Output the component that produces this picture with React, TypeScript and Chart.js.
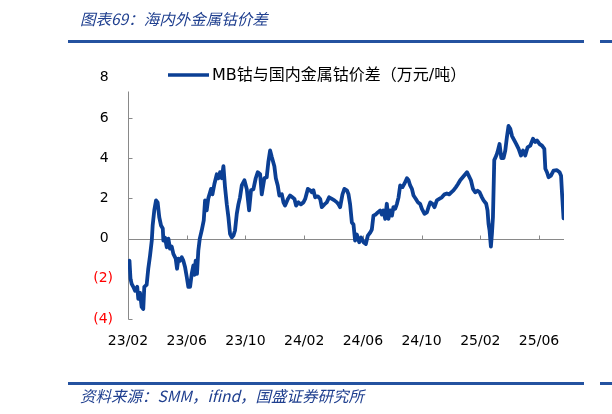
import React, { useEffect, useRef } from "react";
import { Chart, registerables } from "chart.js";

Chart.register(...registerables);

// x position: months since 2023-02 (23/02 = 0)
const monthOffset = [
  0.03, 0.10, 0.17, 0.25, 0.36, 0.48, 0.63, 0.70, 0.82, 0.93, 1.04, 1.11, 1.27, 1.38, 1.50, 1.62, 1.68, 1.79, 1.91, 2.02,
  2.13, 2.25, 2.37, 2.41, 2.52, 2.64, 2.75, 2.86, 2.98, 3.09, 3.25, 3.34, 3.43, 3.54, 3.66, 3.77, 3.89, 4.00, 4.11, 4.23,
  4.34, 4.45, 4.52, 4.61, 4.70, 4.79, 4.89, 5.02, 5.16, 5.25, 5.36, 5.47, 5.66, 5.75, 5.88, 6.05, 6.16, 6.27, 6.39, 6.50,
  6.61, 6.73, 6.84, 6.95, 7.07, 7.18, 7.29, 7.41, 7.52, 7.63, 7.75, 7.93, 8.09, 8.25, 8.38, 8.54, 8.70, 8.84, 9.00, 9.11,
  9.29, 9.45, 9.56, 9.68, 9.80, 9.97, 10.07, 10.20, 10.31, 10.48, 10.59, 10.70, 10.89, 11.04, 11.20, 11.34, 11.45, 11.61, 11.77, 11.95,
  12.07, 12.25, 12.41, 12.52, 12.63, 12.75, 12.93, 13.09, 13.20, 13.38, 13.54, 13.70, 13.89, 14.06, 14.23, 14.34, 14.45, 14.61, 14.74, 14.91,
  15.02, 15.13, 15.25, 15.36, 15.47, 15.59, 15.75, 15.88, 16.04, 16.20, 16.34, 16.50, 16.61, 16.72, 16.88, 17.02, 17.18, 17.29, 17.40, 17.52,
  17.63, 17.74, 17.86, 17.98, 18.08, 18.20, 18.32, 18.43, 18.54, 18.70, 18.83, 19.00, 19.11, 19.22, 19.34, 19.45, 19.61, 19.75, 19.90, 20.02,
  20.20, 20.36, 20.47, 20.59, 20.74, 20.88, 21.04, 21.20, 21.38, 21.56, 21.72, 21.88, 22.02, 22.17, 22.34, 22.47, 22.63, 22.86, 23.09, 23.20,
  23.36, 23.50, 23.65, 23.81, 23.95, 24.11, 24.22, 24.40, 24.49, 24.56, 24.63, 24.72, 24.79, 24.86, 24.95, 25.09, 25.17, 25.31, 25.43, 25.58,
  25.70, 25.81, 25.92, 26.04, 26.16, 26.26, 26.45, 26.61, 26.77, 26.91, 27.06, 27.22, 27.40, 27.59, 27.74, 27.86, 28.04, 28.20, 28.36, 28.43,
  28.54, 28.65, 28.81, 28.99, 29.22, 29.40, 29.50, 29.57, 29.67,
];

// MB cobalt minus domestic cobalt metal price (10k CNY / t)
const spread = [
  -1.2, -1.1, -2.0, -2.25, -2.4, -2.6, -2.4, -3.0, -2.7, -3.4, -3.5, -2.4, -2.3, -1.5, -0.85, -0.1, 0.65, 1.4, 1.9, 1.8,
  1.06, 0.65, 0.5, -0.1, 0.05, -0.43, 0.0, -0.5, -0.4, -0.76, -1.0, -1.5, -1.0, -1.1, -0.93, -1.1, -1.43, -1.9, -2.4, -2.4,
  -1.76, -1.34, -1.8, -1.1, -1.76, -0.6, 0.0, 0.4, 0.9, 1.9, 1.4, 2.0, 2.47, 2.2, 2.7, 3.2, 3.0, 3.3, 3.0, 3.6,
  2.55, 1.7, 1.06, 0.23, 0.06, 0.15, 0.4, 1.23, 1.7, 2.05, 2.64, 2.9, 2.47, 1.4, 2.4, 2.45, 3.0, 3.3, 3.2, 2.2,
  3.0, 3.05, 3.8, 4.38, 4.04, 3.6, 3.0, 2.64, 2.14, 2.2, 1.8, 1.64, 1.97, 2.14, 2.05, 1.97, 1.64, 1.8, 1.7, 1.8,
  1.97, 2.47, 2.4, 2.3, 2.4, 2.05, 2.1, 1.97, 1.56, 1.7, 1.8, 2.05, 1.97, 1.9, 1.8, 1.7, 1.56, 2.2, 2.47, 2.4,
  2.2, 1.7, 0.8, 0.7, -0.1, 0.2, -0.18, 0.05, -0.18, -0.27, 0.15, 0.3, 0.45, 1.14, 1.2, 1.3, 1.4, 1.2, 1.4, 0.98,
  1.73, 0.98, 1.4, 1.14, 1.56, 1.48, 1.73, 2.05, 2.64, 2.56, 2.73, 3.0, 2.9, 2.64, 2.47, 2.14, 1.97, 1.8, 1.73, 1.48,
  1.23, 1.3, 1.56, 1.8, 1.73, 1.56, 1.9, 1.97, 2.05, 2.2, 2.24, 2.2, 2.3, 2.4, 2.56, 2.7, 2.9, 3.1, 3.3, 3.14,
  2.9, 2.47, 2.3, 2.38, 2.3, 2.05, 1.9, 1.73, 1.4, 0.73, 0.4, -0.4, 0.23, 1.06, 3.9, 4.13, 4.3, 4.7, 4.0, 4.0,
  4.38, 5.04, 5.6, 5.46, 5.1, 4.96, 4.7, 4.46, 4.13, 4.38, 4.13, 4.54, 4.62, 4.96, 4.8, 4.88, 4.7, 4.62, 4.46, 3.47,
  3.3, 3.05, 3.13, 3.38, 3.4, 3.3, 3.13, 2.2, 1.0,
];

const xTickValues = [0, 4, 8, 12, 16, 20, 24, 28];
const xTickLabels = ["23/02", "23/06", "23/10", "24/02", "24/06", "24/10", "25/02", "25/06"];
const yTickValues = [-4, -2, 0, 2, 4, 6, 8];

const seriesName = "MB钴与国内金属钴价差（万元/吨）";
const titleText = "图表69：海内外金属钴价差";
const sourceText = "资料来源：SMM，ifind，国盛证券研究所";

const LINE_COLOR = "#0B3F94";
const AXIS_COLOR = "#898989";
const BLUE_TEXT = "#1F3F8F";
const RULE_COLOR = "#2452A0";

const axisPlugin = {
  id: "axisLines",
  beforeDatasetsDraw(chart: any) {
    const { ctx, chartArea, scales } = chart;
    const x = scales.x;
    const y = scales.y;
    ctx.save();
    ctx.strokeStyle = AXIS_COLOR;
    ctx.lineWidth = 1;
    ctx.beginPath();
    const ax = Math.round(chartArea.left) + 0.5;
    ctx.moveTo(ax, chartArea.top);
    ctx.lineTo(ax, Math.round(chartArea.bottom) + 0.5);
    y.ticks.forEach((t: any) => {
      const py = Math.round(y.getPixelForValue(t.value)) + 0.5;
      ctx.moveTo(ax, py);
      ctx.lineTo(ax + 4, py);
    });
    const y0 = Math.round(y.getPixelForValue(0)) + 0.5;
    ctx.moveTo(chartArea.left, y0);
    ctx.lineTo(chartArea.right, y0);
    x.ticks.forEach((t: any) => {
      const px = Math.round(x.getPixelForValue(t.value)) + 0.5;
      ctx.moveTo(px, y0);
      ctx.lineTo(px, y0 - 4);
    });
    ctx.stroke();
    ctx.restore();
  },
};

const legendPlugin = {
  id: "customLegend",
  afterDraw(chart: any) {
    const { ctx, chartArea } = chart;
    const ly = 75;
    ctx.save();
    ctx.fillStyle = "#ffffff";
    ctx.fillRect(chartArea.left - 6, 60, 350, 31.5);
    ctx.strokeStyle = LINE_COLOR;
    ctx.lineWidth = 3.5;
    ctx.beginPath();
    ctx.moveTo(168, ly);
    ctx.lineTo(209, ly);
    ctx.stroke();
    ctx.fillStyle = "#000000";
    ctx.font = '16px "DejaVu Sans", "Noto Sans CJK SC", sans-serif';
    ctx.textBaseline = "middle";
    ctx.textAlign = "left";
    ctx.fillText(seriesName, 212, ly + 1);
    ctx.restore();
  },
};

export default function App() {
  const canvasRef = useRef<HTMLCanvasElement | null>(null);

  useEffect(() => {
    if (!canvasRef.current) return;
    const points = monthOffset.map((m, i) => ({ x: m, y: spread[i] }));
    const chart = new Chart(canvasRef.current, {
      type: "line",
      data: {
        datasets: [
          {
            label: seriesName,
            data: points,
            borderColor: LINE_COLOR,
            backgroundColor: LINE_COLOR,
            borderWidth: 3.8,
            pointRadius: 0,
            tension: 0,
            borderJoinStyle: "round",
            borderCapStyle: "round",
          },
        ],
      },
      options: {
        animation: false,
        responsive: false,
        layout: { padding: { left: 0, top: 77.7, right: 48, bottom: 55 } },
        plugins: { legend: { display: false }, tooltip: { enabled: false }, title: { display: false } },
        scales: {
          x: {
            type: "linear",
            min: 0,
            max: 29.7,
            afterBuildTicks: (s: any) => {
              s.ticks = xTickValues.map((v) => ({ value: v }));
            },
            afterFit: (s: any) => {
              s.height = 40;
            },
            ticks: {
              autoSkip: false,
              maxRotation: 0,
              padding: 14,
              color: "#000000",
              font: { family: "DejaVu Sans", size: 14 },
              callback: (v: any) => {
                const i = xTickValues.indexOf(Number(v));
                return i >= 0 ? xTickLabels[i] : "";
              },
            },
            grid: { display: false, drawTicks: false },
            border: { display: false },
          },
          y: {
            type: "linear",
            min: -4,
            max: 8,
            afterBuildTicks: (s: any) => {
              s.ticks = yTickValues.map((v) => ({ value: v }));
            },
            afterFit: (s: any) => {
              s.width = 128;
            },
            ticks: {
              padding: 15,
              font: { family: "DejaVu Sans", size: 14 },
              color: (c: any) => (c.tick && c.tick.value < 0 ? "#FF0000" : "#000000"),
              callback: (v: any) => {
                const n = Number(v);
                return n < 0 ? `(${Math.abs(n)})` : `${n} `;
              },
            },
            grid: { display: false, drawTicks: false },
            border: { display: false },
          },
        },
      },
      plugins: [axisPlugin, legendPlugin],
    });
    return () => chart.destroy();
  }, []);

  const blueItalic: React.CSSProperties = {
    position: "absolute",
    fontFamily: '"Noto Sans CJK SC", sans-serif',
    fontStyle: "italic",
    fontSize: "15.5px",
    color: BLUE_TEXT,
    whiteSpace: "nowrap",
    lineHeight: "20px",
  };

  return (
    <div style={{ position: "fixed", left: 0, top: 0, width: 612, height: 414, background: "#fff", overflow: "hidden" }}>
      <canvas ref={canvasRef} width={612} height={414} style={{ position: "absolute", left: 0, top: 0 }} />
      <div style={{ ...blueItalic, left: 80, top: 8 }}>{titleText}</div>
      <div style={{ position: "absolute", left: 68, top: 40, width: 516, height: 2.5, background: RULE_COLOR }} />
      <div style={{ position: "absolute", left: 600, top: 40, width: 12, height: 2.5, background: RULE_COLOR }} />
      <div style={{ position: "absolute", left: 68, top: 382, width: 516, height: 2.5, background: RULE_COLOR }} />
      <div style={{ position: "absolute", left: 600, top: 382, width: 12, height: 2.5, background: RULE_COLOR }} />
      <div style={{ ...blueItalic, left: 80, top: 385 }}>{sourceText}</div>
    </div>
  );
}
